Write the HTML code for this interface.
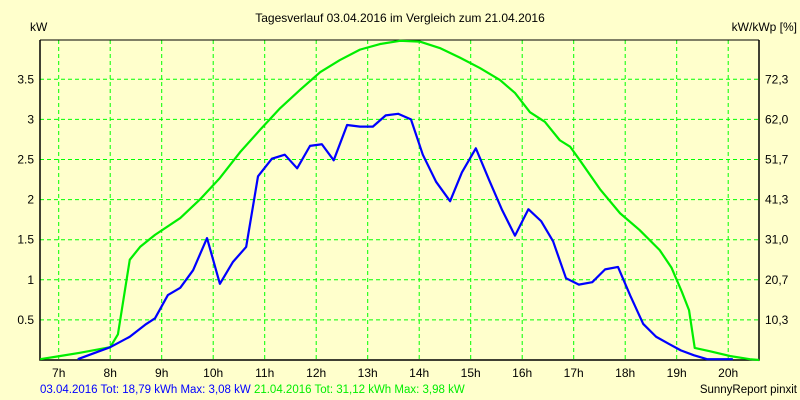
<!DOCTYPE html>
<html><head><meta charset="utf-8"><style>
body{margin:0;background:#ffffcc;}
svg{display:block;font-family:"Liberation Sans",Arial,sans-serif;font-size:12px;}
</style></head><body>
<svg id="chart" width="800" height="400" viewBox="0 0 800 400">
<rect width="800" height="400" fill="#ffffcc"/>
<text x="400" y="22" text-anchor="middle" fill="#000">Tagesverlauf 03.04.2016 im Vergleich zum 21.04.2016</text>
<text x="30" y="31" fill="#000">kW</text>
<text x="797" y="31" text-anchor="end" fill="#000">kW/kWp [%]</text>
<g id="grid"></g>
<g id="axes"></g>
<g id="series"></g>
<text x="40" y="393" font-size="11.5"><tspan fill="#0000ff">03.04.2016 Tot: 18,79 kWh Max: 3,08 kW</tspan><tspan fill="#00ee00"> 21.04.2016 Tot: 31,12 kWh Max: 3,98 kW</tspan></text>
<text x="797" y="393" text-anchor="end" font-size="11.5" fill="#000">SunnyReport pinxit</text>
</svg>
<script>
const hourTicks=[7,8,9,10,11,12,13,14,15,16,17,18,19,20];
const kwTicks=[0.5,1,1.5,2,2.5,3,3.5];
const kwTickLabels=["0.5","1","1.5","2","2.5","3","3.5"];
const pctTickLabels=["10,3","20,7","31,0","41,3","51,7","62,0","72,3"];
const blueTimes=[7.37,8.0,8.38,8.68,8.87,9.12,9.36,9.61,9.88,10.13,10.38,10.64,10.87,11.14,11.39,11.63,11.88,12.11,12.34,12.6,12.85,13.1,13.35,13.59,13.84,14.07,14.33,14.6,14.83,15.1,15.36,15.61,15.86,16.12,16.37,16.6,16.85,17.1,17.36,17.61,17.86,18.1,18.35,18.6,18.85,19.08,19.33,19.59,20.09];
const blueKw=[0.01,0.16,0.29,0.44,0.52,0.81,0.9,1.12,1.52,0.95,1.22,1.41,2.29,2.51,2.56,2.39,2.67,2.69,2.49,2.93,2.91,2.91,3.05,3.07,3.0,2.56,2.22,1.98,2.34,2.64,2.24,1.87,1.55,1.88,1.73,1.48,1.02,0.94,0.97,1.13,1.16,0.8,0.45,0.29,0.2,0.12,0.06,0.01,0.01];
const greenTimes=[6.64,7.03,7.41,8.0,8.15,8.38,8.58,8.87,9.36,9.74,10.13,10.52,10.91,11.3,11.69,12.08,12.46,12.85,13.24,13.63,14.01,14.4,14.79,15.18,15.57,15.86,16.15,16.44,16.73,16.93,17.12,17.51,17.9,18.28,18.67,18.9,19.1,19.24,19.35,19.64,20.03,20.42,20.6];
const greenKw=[0.01,0.05,0.09,0.16,0.32,1.25,1.41,1.56,1.77,2.0,2.27,2.59,2.87,3.14,3.37,3.59,3.74,3.87,3.94,3.98,3.97,3.89,3.77,3.64,3.49,3.33,3.09,2.97,2.74,2.66,2.49,2.13,1.83,1.62,1.37,1.15,0.85,0.62,0.15,0.11,0.05,0.01,0];

const NS="http://www.w3.org/2000/svg";
const L=40,R=759,T=40,B=360;
const xS=t=>58.7+(t-7)*51.5;
const yS=v=>B-v*80.2;
function mk(tag,attrs,parent){const e=document.createElementNS(NS,tag);for(const k in attrs)e.setAttribute(k,attrs[k]);parent.appendChild(e);return e;}
const grid=document.getElementById('grid'),axes=document.getElementById('axes'),series=document.getElementById('series');
hourTicks.forEach(h=>{
  const ln=mk('line',{x1:xS(h),x2:xS(h),y1:T,y2:B,stroke:'#00ff00','stroke-dasharray':'4,3'},grid);
  
  
  const tx=mk('text',{x:xS(h),y:377,'text-anchor':'middle',fill:'#000'},axes);
  tx.textContent=h+'h';
  
  
});
kwTicks.forEach((v,i)=>{
  const ln=mk('line',{x1:L,x2:R,y1:yS(v),y2:yS(v),stroke:'#00ff00','stroke-dasharray':'4,3'},grid);
  
  
  const tl=mk('text',{x:34,y:yS(v)+4,'text-anchor':'end',fill:'#000'},axes);
  tl.textContent=kwTickLabels[i];
  
  
  const tr=mk('text',{x:765,y:yS(v)+4,fill:'#000'},axes);
  tr.textContent=pctTickLabels[i];
  
  
});
const frame=mk('polyline',{points:`${L},${T} ${L},${B} ${R},${B} ${R},${T}`,fill:'none',stroke:'#000','stroke-width':1.5},axes);


const topBorder=mk('line',{x1:L,x2:R,y1:T,y2:T,stroke:'#000','stroke-width':1},axes);


const gp=mk('polyline',{points:greenTimes.map((t,i)=>xS(t)+','+yS(greenKw[i])).join(' '),fill:'none',stroke:'#00ee00','stroke-width':2.2,'stroke-linejoin':'round'},series);


const bp=mk('polyline',{points:blueTimes.map((t,i)=>xS(t)+','+yS(blueKw[i])).join(' '),fill:'none',stroke:'#0000ff','stroke-width':2.2,'stroke-linejoin':'round'},series);


</script>
</body></html>
